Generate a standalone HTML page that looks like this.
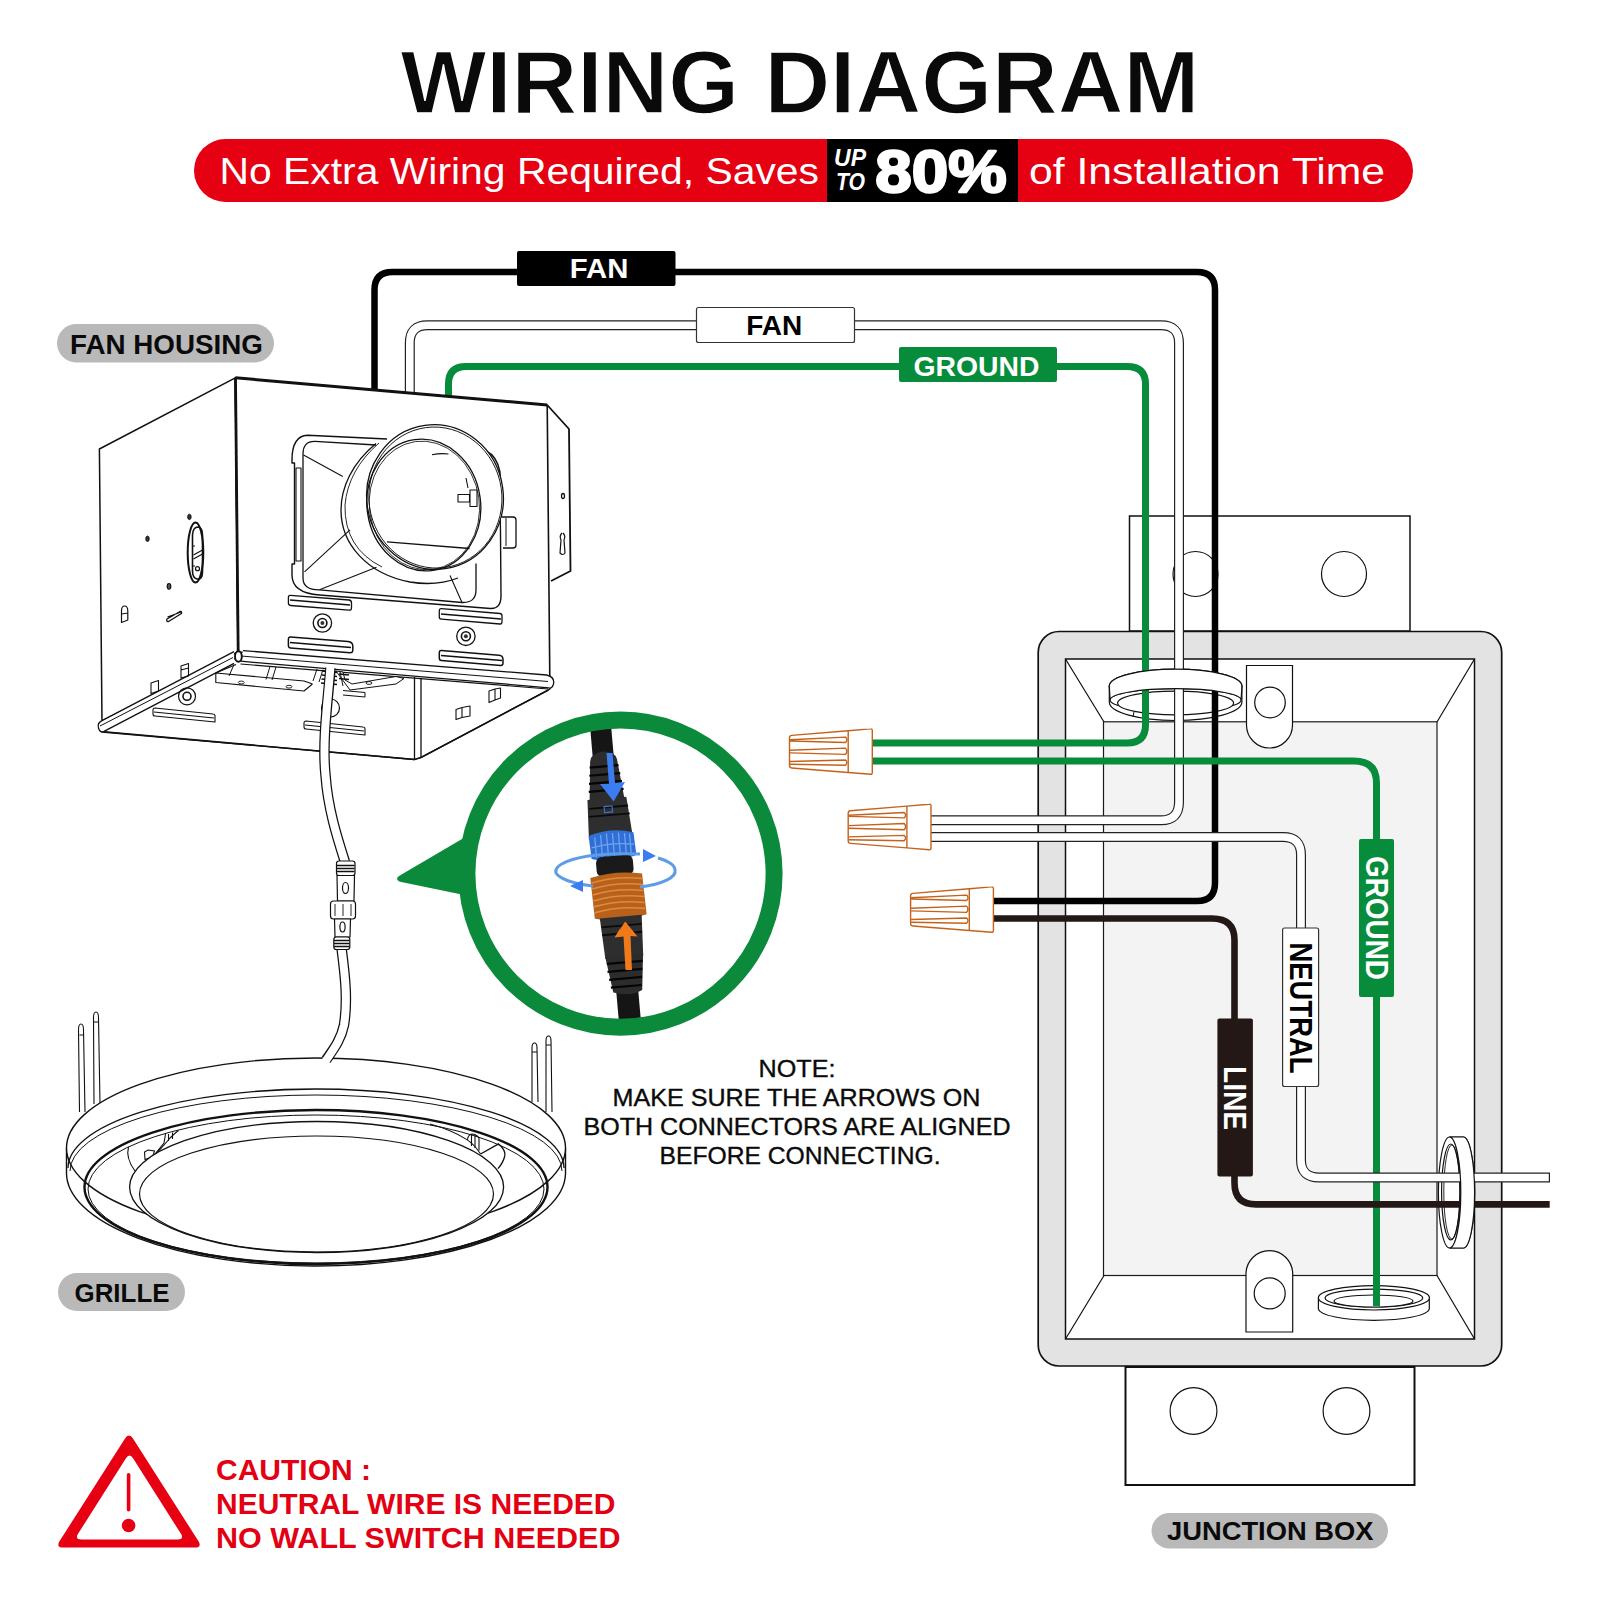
<!DOCTYPE html>
<html><head><meta charset="utf-8"><title>Wiring Diagram</title>
<style>
html,body{margin:0;padding:0;background:#fff;width:1600px;height:1600px;overflow:hidden}
svg{display:block;position:absolute;left:0;top:0}
text{font-family:"Liberation Sans",sans-serif}
</style></head>
<body>
<svg width="1600" height="1600" viewBox="0 0 1600 1600">
<rect width="1600" height="1600" fill="#fff"/>

<!-- ===== HEADER ===== -->
<g id="header">
<text x="400.4" y="112.8" font-size="89" font-weight="bold" fill="#0a0a0a" stroke="#fff" stroke-width="1.3" textLength="798.8" lengthAdjust="spacingAndGlyphs">WIRING DIAGRAM</text>
<rect x="194" y="139" width="1219" height="63" rx="31.5" fill="#e50012"/>
<rect x="827" y="139" width="191" height="63" fill="#000"/>
<text x="219.5" y="184" font-size="36.8" fill="#fff" textLength="599.5" lengthAdjust="spacingAndGlyphs">No Extra Wiring Required, Saves</text>
<text x="1029" y="184" font-size="36.8" fill="#fff" textLength="356" lengthAdjust="spacingAndGlyphs">of Installation Time</text>
<text x="834" y="165.6" font-size="23" font-weight="bold" font-style="italic" fill="#fff" textLength="32" lengthAdjust="spacingAndGlyphs">UP</text>
<text x="836" y="189.6" font-size="23" font-weight="bold" font-style="italic" fill="#fff" textLength="29" lengthAdjust="spacingAndGlyphs">TO</text>
<text x="875.3" y="192.1" font-size="59.8" font-weight="bold" fill="#fff" stroke="#fff" stroke-width="2.4" stroke-linejoin="round" textLength="131.5" lengthAdjust="spacingAndGlyphs">80%</text>
</g>

<!-- ===== JUNCTION BOX ===== -->
<g id="jbox" stroke="#111" stroke-width="1.5">
  <rect x="1129.5" y="516" width="280.5" height="115" fill="#fff"/>
  <circle cx="1195.5" cy="574" r="22.5" fill="#fff" stroke-width="1.2"/>
  <circle cx="1344" cy="574" r="22.5" fill="#fff" stroke-width="1.2"/>
  <rect x="1125.5" y="1367" width="289" height="118" fill="#fff" stroke-width="2"/>
  <circle cx="1193.5" cy="1411" r="23.4" fill="#fff" stroke-width="1.2"/>
  <circle cx="1346.5" cy="1411" r="23.4" fill="#fff" stroke-width="1.2"/>
  <rect x="1038.2" y="631.5" width="463.5" height="734.5" rx="21" fill="#e3e3e3" stroke-width="1.7"/>
  <rect x="1065.5" y="659" width="409" height="680" fill="#fff"/>
  <rect x="1103.5" y="721.8" width="333.5" height="553.7" fill="#f3f3f3" stroke-width="1.2" stroke="#1a1a1a"/>
  <path d="M1065.5 659 L1104 722 M1474.5 659 L1437 722 M1065.5 1339 L1104 1275.5 M1474.5 1339 L1437 1275.5" stroke-width="1.2" fill="none"/>
  <!-- inner tabs -->
  <path d="M1246.5 665.5 H1292.5 V725 A23 23 0 0 1 1246.5 725 Z" fill="#fff" stroke-width="1.2"/>
  <circle cx="1270" cy="702.5" r="15.3" fill="#fff" stroke-width="1.2"/>
  <path d="M1246 1332 V1274 A23.3 23.3 0 0 1 1292.7 1274 V1332 Z" fill="#fff" stroke-width="1.2"/>
  <circle cx="1269.7" cy="1293.4" r="15.5" fill="#fff" stroke-width="1.2"/>
  <!-- top knockout ring -->
  <path d="M1109.3 686 V702 A66.3 18.5 0 0 0 1241.9 702 V686" fill="#fff" stroke-width="1.2"/>
  <ellipse cx="1175.6" cy="686" rx="66.3" ry="16.8" fill="#fff" stroke-width="1.2"/>
  <ellipse cx="1175.6" cy="700" rx="65.5" ry="11.3" fill="#fff" stroke-width="1.2"/>
  <ellipse cx="1175.6" cy="703" rx="58" ry="11.9" fill="#fff" stroke-width="1.2"/>
  <path d="M1134 712 L1133 717" stroke-width="1"/>
  <!-- bottom knockout ring -->
  <path d="M1318.4 1297.8 V1309 A55.5 11.8 0 0 0 1429.3 1309 V1297.8" fill="#fff" stroke-width="1.2"/>
  <ellipse cx="1373.9" cy="1297.8" rx="55.5" ry="12.2" fill="#fff" stroke-width="1.2"/>
  <ellipse cx="1373.9" cy="1298" rx="48.9" ry="8.9" fill="#fff" stroke-width="1.2"/>
  <ellipse cx="1373.5" cy="1301" rx="39.5" ry="6" fill="#fff" stroke-width="1.2"/>
  <!-- right knockout ring (front) -->
  <path d="M1449.6 1137 H1463.4 A11.2 55.5 0 0 1 1463.4 1248 H1449.6" fill="#fff" stroke-width="1.2"/>
  <ellipse cx="1449.6" cy="1192.5" rx="11.2" ry="55.5" fill="#fff" stroke-width="1.2"/>
  <ellipse cx="1450.8" cy="1192" rx="9.2" ry="48" fill="#fff" stroke-width="1.2"/>
  <ellipse cx="1451.8" cy="1192" rx="8" ry="47" fill="none" stroke-width="0.9"/>
</g>

<!-- ===== WIRES ===== -->
<g id="wires" fill="none">
  <!-- black FAN wire -->
  <path d="M374.5 392 V290 Q374.5 272 392.5 272 H1197 Q1215 272 1215 290 V883 Q1215 901 1197 901 H994" stroke="#000" stroke-width="6.5"/>
  <!-- white FAN wire -->
  <path d="M409.8 396 V343 Q409.8 325.3 427.5 325.3 H1161 Q1179 325.3 1179 343 V802 Q1179 820.3 1161 820.3 H931" stroke="#222" stroke-width="10"/>
  <path d="M409.8 398 V343 Q409.8 325.3 427.5 325.3 H1161 Q1179 325.3 1179 343 V802 Q1179 820.3 1161 820.3 H931" stroke="#fff" stroke-width="7.6"/>
  <!-- green GROUND wire -->
  <path d="M448.5 399 V384 Q448.5 366.5 466 366.5 H1127 Q1145.5 366.5 1145.5 384 V725 Q1145.5 743 1127 743 H872" stroke="#068c3a" stroke-width="7"/>
  <path d="M872 761 H1354 Q1376.5 761 1376.5 783 V1306" stroke="#068c3a" stroke-width="7"/>
  <!-- neutral white wire -->
  <path d="M931 837 H1283 Q1301 837 1301 855 V1160 Q1301 1177.5 1319 1177.5 H1550" stroke="#222" stroke-width="10"/>
  <path d="M931 837 H1283 Q1301 837 1301 855 V1160 Q1301 1177.5 1319 1177.5 H1548.8" stroke="#fff" stroke-width="7.6"/>
  <!-- line wire -->
  <path d="M994 918.5 H1212 Q1234.5 918.5 1234.5 940 V1183 Q1234.5 1204.4 1256 1204.4 H1549.7" stroke="#231815" stroke-width="6.6"/>
</g>

<!-- ring covers (drawn over wires) -->
<g fill="#fff" stroke="#111" stroke-width="1.2">
  <path d="M1109.3 686 A66.3 16.8 0 0 1 1241.9 686 L1241.1 700 A65.5 11.3 0 0 0 1110.1 700 Z"/>
  <path d="M1449.6 1248 A11.2 55.5 0 0 0 1449.6 1137 H1463.4 A11.2 55.5 0 0 1 1463.4 1248 Z"/>
</g>

<!-- ===== WIRE NUTS ===== -->
<defs>
  <g id="nut" fill="none" stroke="#c4621c" stroke-width="1.4" stroke-linejoin="round">
    <path d="M2.2 6.6 Q0 6.8 0 9 V36.8 Q0 39 2.2 39.2 L58.7 43.7 L81 45.5 Q82.8 45.6 82.8 43.8 V1.6 Q82.8 -0.1 81 0.1 L58.7 1.9 Z" fill="#fff"/>
    <path d="M58.7 1.9 V43.7"/>
    <path d="M0.5 11 L56 8.3 Q58.8 11 56 13.7 L0.5 12.2"/>
    <path d="M0.5 21.4 L56 19.3 Q58.8 22.4 56 25.6 L0.5 24.1"/>
    <path d="M0.5 32.7 L56 31.2 Q58.8 33.8 56 36.5 L0.5 35.5"/>
  </g>
</defs>
<use href="#nut" x="789.5" y="728.8"/>
<use href="#nut" x="848.2" y="804.2"/>
<use href="#nut" x="910.6" y="886.8"/>

<!-- ===== FAN HOUSING ===== -->
<g id="housing" fill="none" stroke="#111" stroke-width="1.3" stroke-linejoin="round">
  <!-- bottom region -->
  <path d="M102 726 L236 658 L550 683 L550 689 L421 757.5 L414.5 759.5 L102 732 Z" fill="#fff"/>
  <!-- left face -->
  <path d="M99.4 449 L235.3 377.8 L238 652 L102 721 Z" fill="#fff" stroke-width="1.5"/>
  <!-- right chamfer side -->
  <path d="M547.2 405 L569 429 L570.5 571 L551 581" fill="#fff" stroke-width="1.8"/>
  <!-- front face -->
  <path d="M235.3 377.8 L547.2 405 L549.8 677 L238 652 Z" fill="#fff" stroke-width="1.6"/>
  <path d="M235.3 377.8 L547.2 405" stroke-width="3"/>
  <path d="M235.5 378 L238.2 654" stroke-width="2.8"/>
  <!-- front flange -->
  <path d="M243 650.6 L546.6 675 Q555 677 553.5 684 Q552 689 548.7 687.8 L240.6 661.2" fill="#fff" stroke-width="1.3"/>
  <path d="M241 656 L548 681.5" stroke-width="1"/>
  <!-- left flange -->
  <path d="M234 651.7 L102 720.7 Q97 723 98.5 728 Q100 733 104 731.4 L234 663.4" fill="#fff" stroke-width="1.3"/>
  <path d="M233 657.5 L100 726" stroke-width="1"/>
  <ellipse cx="238.4" cy="656.5" rx="3.4" ry="5.2" fill="#fff" stroke-width="1.9"/>
  <!-- bottom tray lines -->
  <path d="M414.5 677 V759.5 M421 678 V757.5" stroke-width="1.3"/>
  <path d="M104 731.8 L414.5 759.5 L421 757.5 L548.5 690" stroke-width="1.6"/>
  <!-- motor area under flange -->
  <path d="M240.5 664 L548 689" stroke-width="1.2"/>
  <path d="M236 664.5 L215.8 673 V682.5 L304 691 L312.5 684 M215.8 673 L304 681 L312.5 684" stroke-width="1.1"/>
  <path d="M234 664.5 L229 676 M270 666.5 L266 679.5 M276 667 L272 680 M317 669 L313 681 M323 669.5 L319 682" stroke-width="1"/>
  <path d="M336 671 L343 672 L345 680 L352 684 L396 676.5 L404 678.5 L396 684 L350 690 Z" stroke-width="1" fill="#fff"/>
  <path d="M343 690.5 L365 692.5 V697 L343 695" stroke-width="1"/>
  <path d="M322.5 671 L337 672.5 M322 675 L337 676.5 M321.5 679 L337 680.5 M321 683 L337 684.5 M339 674 L349 675 M339 678.5 L349 679.5" stroke-width="1.6"/>
  <path d="M327 670 L332 683 M340 672 L343 686" stroke-width="1"/>
  <ellipse cx="241.3" cy="682.5" rx="3" ry="1.4" stroke-width="0.9"/>
  <ellipse cx="289" cy="686.7" rx="3" ry="1.4" stroke-width="0.9"/>
  <ellipse cx="369" cy="683" rx="3" ry="1.4" stroke-width="0.9"/>
  <!-- bottom slots -->
  <path d="M155 708 L213 714 Q215 714 215 716 V722 L155 716 Q153 716 153 714 V710 Q153 708 155 708 Z M154 712 L214 718" stroke-width="1.1"/>
  <path d="M306 721 L363 727 Q365 727 365 729 V735 L306 729 Q304 729 304 727 V723 Q304 721 306 721 Z M305 725 L364 731" stroke-width="1.1"/>
  <circle cx="187" cy="696.3" r="8.5" stroke-width="1.2"/>
  <circle cx="187" cy="696.3" r="4" stroke-width="1.6"/>
  <circle cx="330.5" cy="708" r="9" stroke-width="1.2"/>
  <!-- left face tabs on bottom -->
  <path d="M181 666 L188.5 663.5 V676 L181 678 Z M181 670 L188.5 668" stroke-width="1.1"/>
  <path d="M151 683 L158.5 680.5 V691 L151 693.5 Z" stroke-width="1.1"/>
  <path d="M456 709.5 L462 707.5 V717.5 L456 719.5 Z M462 707.5 L470 706 V716 L462 717.5" stroke-width="1.1"/>
  <path d="M489 691 L495 689 V700 L489 702.5 Z M495 689 L500.5 688 V698 L495 700" stroke-width="1.1"/>
  <!-- left face details -->
  <ellipse cx="195.5" cy="552.5" rx="7.8" ry="30" stroke-width="2"/>
  <path d="M192.5 535 Q193 527 198 527 Q202.5 527.5 202.5 535 V572 Q202.5 580 197 579 Q192.5 578 192.5 571 Z" stroke-width="1.6"/><path d="M192.5 546 H195 M192.5 566 H195" stroke-width="1"/>
  <path d="M193.5 555 L202.5 550 M193.5 559 L202.5 554" stroke-width="1.2"/>
  <circle cx="197.5" cy="568.7" r="2" stroke-width="1.2"/>
  <ellipse cx="189.4" cy="516.9" rx="1.7" ry="2.7" fill="#333" stroke-width="1"/>
  <ellipse cx="147.5" cy="538.8" rx="1.7" ry="2.7" fill="#333" stroke-width="1"/>
  <ellipse cx="169" cy="586.3" rx="1.8" ry="2.8" fill="#555" stroke-width="1.2"/>
  <path d="M121.5 622.5 V611 Q121.5 606 124.5 606 Q127.8 606 127.8 611 V620 Z M121.5 614 L127.8 613" stroke-width="1.2"/>
  <path d="M167 619 L180 611.5 Q182 611 181.5 613.5 L168.5 621.5 Q166 622 167 619 Z M167.5 617 L181 612" stroke-width="1.3"/>
  <!-- duct frame -->
  <path d="M307.5 435.3 L387 439 M486 451 Q497 456 500 472 L501 596 Q501 609 490.5 608.5 L319.5 595 Q292 593 292 575 V564 L294.5 564 V463 L292 463 V460 Q292 436 307.5 435.3" stroke-width="1.4" fill="#fff"/>
  <path d="M296 468 H301 V561 H296 Z" stroke-width="1.1"/>
  <path d="M315 441.3 L376 445 M303 454 Q303 441 315 441.3 M303 454 V578 Q303 590 319.5 589.8 L462 602.5 Q476 603 476 590 V563.5" stroke-width="1.3"/>
  <path d="M303.5 455 L342.8 476.5 M304.5 571.8 L350 529.8 M319.5 589.8 L376.5 567.3 M450 575.5 L462 602.5" stroke-width="1.1"/>
  <!-- collar -->
  <path d="M376 443.5 C352 463 341 488 341 510 C341 545 368 574 410 582 C428 585 445 583 458 578" stroke-width="1.3"/>
  <path d="M379 443 Q348 470 345 505 Q344 548 382 567" stroke-width="0.9"/>
  <ellipse cx="435" cy="497" rx="68.3" ry="72.4" transform="rotate(-8 435 497)" fill="#fff" stroke-width="1.3"/>
  <ellipse cx="435.3" cy="497.6" rx="66.5" ry="70.6" transform="rotate(-8 435 497)" stroke-width="0.9"/>
  <ellipse cx="423.8" cy="505" rx="56.8" ry="66" transform="rotate(-8 423.8 505)" stroke-width="1.3"/>
  <ellipse cx="424.3" cy="505.5" rx="55" ry="64.5" transform="rotate(-8 423.8 505)" stroke-width="0.8"/>
  <path d="M387 541.8 L469.5 548.5" stroke-width="1.3"/>
  <path d="M432 454.8 Q440 453 448.5 454" stroke-width="1.1"/>
  <path d="M458 494.5 H469.5 V502 H458 Z M470 490 H477 V506.5 H470 Z M468 488 L466 478" stroke-width="1.1"/>
  <path d="M501 517 H513 Q516 517 516 520 V545 Q516 548 513 548 H503" fill="#fff" stroke-width="1.3"/>
  <path d="M506 518 V546" stroke-width="1"/>
  <!-- right side details -->
  <ellipse cx="563" cy="496" rx="1.5" ry="2.5" stroke-width="1.3"/>
  <path d="M562 533 Q559 536 561 540 L560 553 Q563 556 565 553 L564 540 Q566 536 563 533" stroke-width="1.2"/>
  <!-- front face slots -->
  <path d="M290.5 595.3 L349 600 Q351.5 600.3 351.5 603 V607.8 Q351.5 610.4 349 610.2 L290.5 605.5 Q288.4 605.3 288.4 603 V597.5 Q288.4 595.1 290.5 595.3 Z M290 600 L350 605" stroke-width="1.3"/>
  <path d="M441.3 608.7 L500 613.5 Q502 613.7 502 616 V621.5 Q502 624.2 500 624 L441.3 619.2 Q439.3 619 439.3 617 V611 Q439.3 608.5 441.3 608.7 Z M441 614 L501 619" stroke-width="1.3"/>
  <path d="M290.5 637 L348 641.5 Q352.8 642 352.8 646 V650 Q352.8 652.9 350 652.7 L290.5 648 Q288.4 647.8 288.4 645.5 V639.5 Q288.4 636.8 290.5 637 Z M290 642.5 L351 647.5" stroke-width="1.5"/>
  <path d="M441.3 650.6 L499 655.2 Q503 655.6 503 659.5 V663 Q503 665.6 500.5 665.4 L441.3 660.6 Q439.3 660.4 439.3 658 V653 Q439.3 650.4 441.3 650.6 Z M441 655.5 L502 660.5" stroke-width="1.5"/>
  <circle cx="322.4" cy="623" r="9.2" stroke-width="1.3"/>
  <circle cx="322.4" cy="623" r="4.5" stroke-width="1.6"/>
  <circle cx="322.4" cy="623" r="2" fill="#333" stroke="none"/>
  <circle cx="465.9" cy="636.3" r="9.2" stroke-width="1.3"/>
  <circle cx="465.9" cy="636.3" r="4.5" stroke-width="1.6"/>
  <circle cx="465.9" cy="636.3" r="2" fill="#333" stroke="none"/>
</g>

<!-- ===== GRILLE ===== -->
<g id="grille" fill="none" stroke="#111" stroke-width="1.3">
  <!-- spring clips -->
  <g stroke-width="1.1">
    <path d="M79.5 1112 L78.5 1030 Q78.5 1024 81 1024 Q83.5 1024 83.5 1030 L85 1112"/>
    <path d="M94 1104 L93.5 1018 Q93.5 1012 96 1012 Q98.5 1012 98.5 1018 L100 1104"/>
    <path d="M532 1102 L532 1048 Q532 1043 534.5 1043 Q537 1043 537 1048 L538 1102"/>
    <path d="M546 1112 L546 1041 Q546 1036 548.5 1036 Q551 1036 551 1041 L552 1112"/>
    <path d="M79.5 1035 H83.7 M94 1022 H98.7 M532 1052 H537 M546 1045 H551"/>
  </g>
  <!-- outer body -->
  <path d="M66.5 1148 V1172 A249.5 93 0 0 0 565.5 1174 V1148" fill="#fff" stroke-width="1.4"/>
  <ellipse cx="316" cy="1148" rx="249.5" ry="90" fill="#fff" stroke-width="1.4"/>
  <!-- groove double line -->
  <path d="M68 1168 A248 79 0 0 1 564 1168"/>
  <path d="M70 1171 A246 76 0 0 1 562 1171" stroke-width="1"/>
  <!-- opening (thick) -->
  <ellipse cx="316" cy="1187" rx="231.5" ry="77" stroke-width="2.4"/>
  <ellipse cx="316" cy="1189" rx="228" ry="74" stroke-width="1"/>
  <!-- mechanism hints -->
  <g stroke-width="1.1">
    <path d="M128.5 1147 Q125.5 1158 135 1171"/>
    <path d="M144.5 1152 L145 1159.5 L152.5 1157 L154.5 1151 L148 1150 Z"/>
    <path d="M152.5 1157 L164 1143 L165.5 1134 M156 1154 Q166 1143 170 1138 Q175 1133 178.5 1130.5 M168.5 1134 V1141 M172.5 1132.5 V1139"/>
    <path d="M430 1124 Q452 1130 466.5 1139.4 Q474 1144 480.6 1154"/>
    <path d="M467.5 1140 Q468 1134.5 472 1134 Q476 1134 479 1138 V1150.5 M471.5 1134.5 V1146 M475 1135 V1148"/>
    <path d="M480.6 1154 L498.6 1143.9 Q506 1150 504.8 1156 Q503 1163 498 1168.6" stroke-width="1.3"/>
  </g>
  <!-- inner disc -->
  <ellipse cx="316.6" cy="1187" rx="187" ry="65.5" fill="#fff" stroke-width="1.3"/>
  <ellipse cx="316.5" cy="1194" rx="177" ry="58" stroke-width="1.2"/>
</g>
<!-- cable housing -> grille -->
<g id="cable" fill="none" stroke-linecap="butt">
  <path d="M330.5 668 C328 700 322 740 325.5 775 C328 810 338 840 345 862" stroke="#111" stroke-width="10.5"/>
  <path d="M330.5 666 C328 700 322 740 325.5 775 C328 810 338 840 345 862" stroke="#fff" stroke-width="8"/>
  <path d="M341.5 948 C345 975 348 1000 344 1025 C341 1040 333 1050 326 1060" stroke="#111" stroke-width="10.5"/>
  <path d="M341.5 948 C345 975 348 1000 344 1025 C341 1040 333 1050 325 1062" stroke="#fff" stroke-width="8"/>
  <g stroke="#111" stroke-width="1.2" fill="#fff">
    <rect x="336.5" y="861" width="18.5" height="14.5" rx="2.5"/>
    <path d="M337 865.5 H354.5 M337 868.5 H354.5 M337 871.5 H354.5" stroke-width="1.5"/>
    <path d="M337 875.5 H354.5 L354 901 H337.5 Z"/>
    <ellipse cx="345.5" cy="888" rx="3" ry="5.5"/>
    <rect x="330.5" y="901" width="25" height="18" rx="3"/>
    <path d="M335 904 V916 M343 904 V916 M351 904 V916" stroke-width="0.9"/>
    <path d="M334.5 919 H350.5 L350 937 H335 Z"/>
    <ellipse cx="342.5" cy="927" rx="2.6" ry="5"/>
    <rect x="333.8" y="937" width="16" height="12.5" rx="2.5"/>
    <path d="M334 940.5 H349.5 M334 943.5 H349.5 M334 946.5 H349.5" stroke-width="1.5"/>
  </g>
</g>

<!-- ===== CONNECTOR ZOOM ===== -->
<g id="zoomc">
  <path d="M470 836 L401 876.5 Q396 879 401.5 880.5 L467 894 Z" fill="#0b8a3b" stroke="#0b8a3b" stroke-width="3" stroke-linejoin="round"/>
  <circle cx="620.5" cy="873.6" r="153.6" fill="#fff"/>
  <clipPath id="cclip"><circle cx="620.5" cy="873.6" r="146"/></clipPath>
  <g clip-path="url(#cclip)"><g transform="rotate(-5 614 874)">
    <!-- cables -->
    <rect x="603" y="726" width="21" height="40" fill="#151515"/>
    <rect x="606" y="985" width="22" height="45" fill="#151515"/>
    <!-- upper boot -->
    <path d="M600 760 Q601 752 613 751 Q626 752 627 760 L631 800 L596 800 Z" fill="#2c2c2c"/>
    <g stroke="#050505" stroke-width="2.2">
      <path d="M599 766 H628 M598 774 H629 M597 782 H630 M596 790 H631"/>
    </g>
    <!-- upper body -->
    <path d="M594 798 H633 L636 838 H592 Z" fill="#2e2e2e"/>
    <path d="M595 807 H634 M594 815 H635" stroke="#0a0a0a" stroke-width="1.8"/>
    <!-- blue nut -->
    <path d="M592 834 Q614 827 637 834 L638 857 Q614 864 593 857 Z" fill="#2f6fd6"/>
    <path d="M598 836 V856 M604 834 V858 M610 833 V859 M616 833 V859 M622 833 V859 M628 834 V858 M633 835 V857" stroke="#6fa4ef" stroke-width="1.3"/>
    <path d="M594 846 Q614 842 637 846" stroke="#6fa4ef" stroke-width="1.3" fill="none"/>
    <!-- middle black -->
    <rect x="597" y="856" width="37" height="20" rx="6" fill="#1a1a1a"/>
    <!-- orange nut -->
    <path d="M590 876 Q615 870 642 876 L643 917 Q615 924 591 917 Z" fill="#b7611d"/>
    <g stroke="#e08a3c" stroke-width="1.6" fill="none">
      <path d="M591 881 Q615 876 642 881 M591 887 Q615 882 642 887 M591 893 Q615 888 642 893 M591 899 Q615 894 642 899 M591 905 Q615 900 642 905 M591 911 Q615 906 642 911"/>
    </g>
    <!-- lower body -->
    <path d="M596 917 H638 L636 958 H598 Z" fill="#2e2e2e"/>
    <path d="M597 926 H637 M597 934 H637" stroke="#0a0a0a" stroke-width="1.8"/>
    <!-- lower boot -->
    <path d="M598 956 H636 L632 992 Q620 998 603 992 Z" fill="#2c2c2c"/>
    <g stroke="#050505" stroke-width="2.2">
      <path d="M599 963 H635 M599 971 H634 M600 979 H633 M601 987 H632"/>
    </g>
    <!-- small arrow marks -->
    <path d="M610 812 h8 v-6 h-8 z" fill="none" stroke="#3f6fc9" stroke-width="1.2"/>
    <path d="M611 936 l4 -6 l4 6 z" fill="none" stroke="#b7611d" stroke-width="1.2"/>
  </g>
    <!-- blue arrow down -->
    <path d="M606.5 753 L612.5 753 L615 783 L625 782 L613.6 801.5 L600 784 L609 784 Z" fill="#3b7cf0"/>
    <!-- orange arrow up -->
    <path d="M625.2 921.5 L637.5 936.5 L630.5 936 L632 970 L625.5 970 L623.5 936.5 L614.5 937.5 Z" fill="#f07a1a"/>
  </g>
  <circle cx="620.5" cy="873.6" r="153.6" fill="none" stroke="#0b8a3b" stroke-width="17"/>
  <!-- rotation arrows -->
  <g fill="none" stroke="#5d9ce6" stroke-width="3">
    <path d="M593 886 A60 17.3 0 0 1 556 873 A60 17.3 0 0 1 598 855"/>
    <path d="M598 855 Q614 853 640 854"/>
    <path d="M658 858 A60 17.3 0 0 1 675 870 A60 17.3 0 0 1 640 887"/>
  </g>
  <path d="M643 849 L656 856 L643 862 Z" fill="#3b7cf0"/>
  <path d="M583 880 L570 886 L583 892 Z" fill="#3b7cf0"/>
</g>

<!-- ===== WIRE LABELS ===== -->
<g id="labels">
  <rect x="517" y="251" width="158.5" height="35" rx="2" fill="#000"/>
  <text x="569.8" y="278.4" font-size="26.8" font-weight="bold" fill="#fff" textLength="58.5" lengthAdjust="spacingAndGlyphs">FAN</text>
  <rect x="696.5" y="307.5" width="158" height="35" rx="2" fill="#fff" stroke="#333" stroke-width="1.2"/>
  <text x="746.3" y="335.3" font-size="26.8" font-weight="bold" fill="#000" textLength="56" lengthAdjust="spacingAndGlyphs">FAN</text>
  <rect x="899" y="347" width="158" height="35" rx="2" fill="#068c3a"/>
  <text x="913.5" y="375.8" font-size="26.8" font-weight="bold" fill="#fff" textLength="126" lengthAdjust="spacingAndGlyphs">GROUND</text>

  <rect x="1359" y="839" width="35" height="158" rx="2" fill="#068c3a"/>
  <text transform="translate(1366 856) rotate(90)" font-size="31" font-weight="bold" fill="#fff" textLength="124" lengthAdjust="spacingAndGlyphs">GROUND</text>
  <rect x="1282.6" y="928" width="36" height="158.5" rx="2" fill="#fff" stroke="#333" stroke-width="1.2"/>
  <text transform="translate(1289.8 942.5) rotate(90)" font-size="31.5" font-weight="bold" fill="#000" textLength="131" lengthAdjust="spacingAndGlyphs">NEUTRAL</text>
  <rect x="1217.4" y="1018.4" width="35.5" height="158" rx="2" fill="#231815"/>
  <text transform="translate(1224 1066) rotate(90)" font-size="31" font-weight="bold" fill="#fff" textLength="64" lengthAdjust="spacingAndGlyphs">LINE</text>
</g>

<!-- ===== PILL LABELS ===== -->
<g id="pills">
  <rect x="57" y="324" width="217" height="38.5" rx="19.25" fill="#b9b9b9"/>
  <text x="70" y="353.7" font-size="26.9" font-weight="bold" fill="#0a0a0a" textLength="193" lengthAdjust="spacingAndGlyphs">FAN HOUSING</text>
  <rect x="58" y="1273" width="127" height="38" rx="19" fill="#b9b9b9"/>
  <text x="74.5" y="1302" font-size="26" font-weight="bold" fill="#0a0a0a" textLength="95" lengthAdjust="spacingAndGlyphs">GRILLE</text>
  <rect x="1151.5" y="1513" width="236.5" height="35.5" rx="17.75" fill="#b9b9b9"/>
  <text x="1167" y="1540.3" font-size="26.2" font-weight="bold" fill="#0a0a0a" textLength="206.5" lengthAdjust="spacingAndGlyphs">JUNCTION BOX</text>
</g>

<!-- ===== NOTE ===== -->
<g id="note" font-size="24" fill="#0a0a0a" stroke="#0a0a0a" stroke-width="0.35" text-anchor="middle">
  <text x="797" y="1077.3" textLength="77" lengthAdjust="spacingAndGlyphs">NOTE:</text>
  <text x="796.5" y="1106.2" textLength="368" lengthAdjust="spacingAndGlyphs">MAKE SURE THE ARROWS ON</text>
  <text x="797" y="1135" textLength="427" lengthAdjust="spacingAndGlyphs">BOTH CONNECTORS ARE ALIGNED</text>
  <text x="800" y="1164" textLength="281" lengthAdjust="spacingAndGlyphs">BEFORE CONNECTING.</text>
</g>

<!-- ===== CAUTION ===== -->
<g id="caution">
  <path d="M133.3 1438.9 Q129.0 1432.2 124.7 1438.9 L59.8 1540.8 Q55.5 1547.5 63.5 1547.5 L194.5 1547.5 Q202.5 1547.5 198.2 1540.8 Z M133.2 1458.4 Q129.5 1452.5 125.8 1458.4 L78.2 1533.6 Q74.5 1539.5 81.5 1539.5 L177.5 1539.5 Q184.5 1539.5 180.8 1533.6 Z" fill="#e60012" fill-rule="evenodd"/>
  <rect x="126.8" y="1473" width="3.6" height="38.5" rx="1.8" fill="#e60012"/>
  <circle cx="128.6" cy="1525.5" r="6.8" fill="#e60012"/>
  <g font-size="30" font-weight="bold" fill="#e20012">
    <text x="216" y="1480">CAUTION :</text>
    <text x="216" y="1513.7" textLength="399.5" lengthAdjust="spacingAndGlyphs">NEUTRAL WIRE IS NEEDED</text>
    <text x="216" y="1547.5" textLength="404.5" lengthAdjust="spacingAndGlyphs">NO WALL SWITCH NEEDED</text>
  </g>
</g>

</svg>
</body></html>
